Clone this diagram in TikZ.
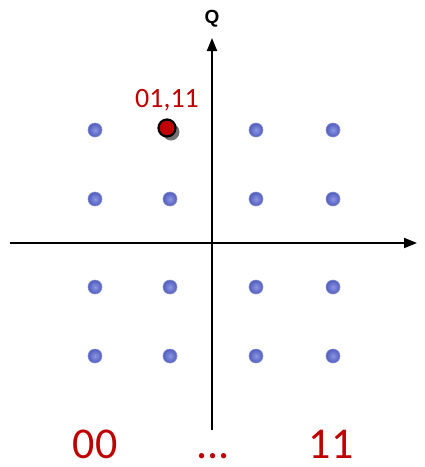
\documentclass[tikz,border=0pt]{standalone}
\usepackage{fontspec}
\setmainfont{Carlito}
\newfontfamily\qfont{Liberation Sans}
\usetikzlibrary{arrows.meta}
\definecolor{dotblue}{RGB}{80,92,190}
\definecolor{dotlight}{RGB}{140,150,225}
\definecolor{labred}{RGB}{192,0,0}
\begin{document}
\begin{tikzpicture}[x=1pt,y=-1pt,
  dot/.style={circle,inner sep=0pt,minimum size=14pt,inner color=dotlight,outer color=dotblue,draw=dotblue!70,line width=0.6pt},
  axis/.style={line width=2pt,-{Triangle[length=13pt,width=10pt]}},
  lab/.style={text=labred,inner sep=0pt}]
\useasboundingbox (0,0) rectangle (425,467);
% axes
\coordinate (vb) at (212,430);
\coordinate (vt) at (212,38);
\coordinate (hl) at (10,243);
\coordinate (hr) at (417,243);
\draw[axis] (hl) -- (hr);
\draw[axis] (vb) -- (vt);
\node[inner sep=0pt,font=\qfont\bfseries\fontsize{19}{19}\selectfont] (q) at (212,19) {Q};
% dots
\node[dot] (d11) at (95,130) {};
\node[dot] (d13) at (256,130) {};
\node[dot] (d14) at (333,130) {};
\node[dot] (d21) at (95,199) {};
\node[dot] (d22) at (170,199) {};
\node[dot] (d23) at (256,199) {};
\node[dot] (d24) at (333,199) {};
\node[dot] (d31) at (95,287) {};
\node[dot] (d32) at (170,287) {};
\node[dot] (d33) at (256,287) {};
\node[dot] (d34) at (333,287) {};
\node[dot] (d41) at (95,356) {};
\node[dot] (d42) at (170,356) {};
\node[dot] (d43) at (256,356) {};
\node[dot] (d44) at (333,356) {};
% highlighted point
\node[circle,inner sep=0pt,minimum size=17pt,fill=black!55] (sh) at (171,132) {};
\node[circle,inner sep=0pt,minimum size=17pt,fill=labred,draw=black,line width=2.2pt] (red) at (167,128) {};
\node[lab,font=\fontsize{28}{28}\selectfont] (l0111) at (167,100) {01,11};
% bottom labels
\node[lab,font=\fontsize{44}{44}\selectfont,anchor=base] (l00) at (95,458) {00};
\node[lab,font=\fontsize{44}{44}\selectfont,anchor=base] (ldots) at (213,458) {...};
\node[lab,font=\fontsize{44}{44}\selectfont,anchor=base] (l11) at (331,458) {11};
\end{tikzpicture}
\end{document}
